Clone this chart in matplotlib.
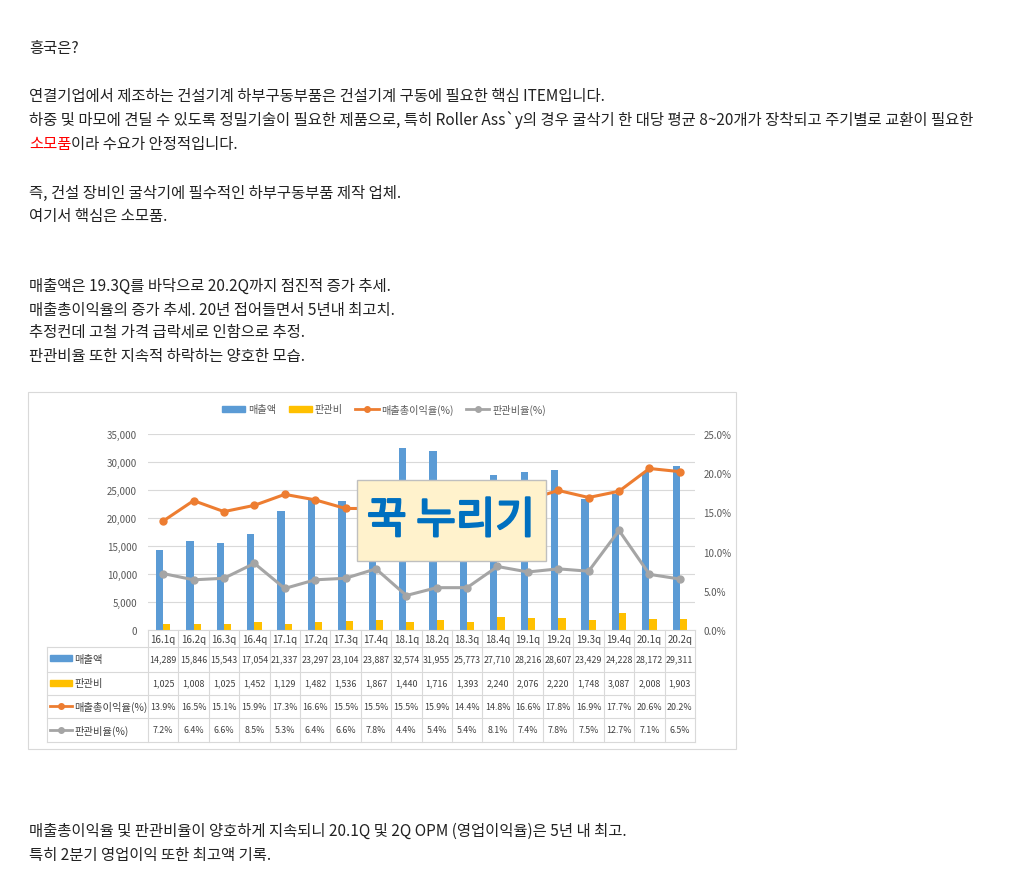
import matplotlib
matplotlib.use("Agg")
import matplotlib.pyplot as plt
import matplotlib.patheffects as pe
import numpy as np
from matplotlib import transforms
from matplotlib.lines import Line2D
from matplotlib.patches import Rectangle
from matplotlib.text import Annotation

plt.rcParams["font.family"] = ["Noto Sans CJK KR", "DejaVu Sans"]

quarters = ["16.1q", "16.2q", "16.3q", "16.4q", "17.1q", "17.2q", "17.3q", "17.4q", "18.1q",
            "18.2q", "18.3q", "18.4q", "19.1q", "19.2q", "19.3q", "19.4q", "20.1q", "20.2q"]
sales = [14289, 15846, 15543, 17054, 21337, 23297, 23104, 23887, 32574,
         31955, 25773, 27710, 28216, 28607, 23429, 24228, 28172, 29311]
sga = [1025, 1008, 1025, 1452, 1129, 1482, 1536, 1867, 1440,
       1716, 1393, 2240, 2076, 2220, 1748, 3087, 2008, 1903]
gross_margin = [13.9, 16.5, 15.1, 15.9, 17.3, 16.6, 15.5, 15.5, 15.5,
                15.9, 14.4, 14.8, 16.6, 17.8, 16.9, 17.7, 20.6, 20.2]
sga_ratio = [7.2, 6.4, 6.6, 8.5, 5.3, 6.4, 6.6, 7.8, 4.4,
             5.4, 5.4, 8.1, 7.4, 7.8, 7.5, 12.7, 7.1, 6.5]

series_names = ["매출액", "판관비", "매출총이익율(%)", "판관비율(%)"]
c_blue, c_yellow, c_orange, c_gray = "#5B9BD5", "#FFC000", "#ED7D31", "#A5A5A5"

body_lines = [
    (48, "흥국은?"),
    (97, "연결기업에서 제조하는 건설기계 하부구동부품은 건설기계 구동에 필요한 핵심 ITEM입니다."),
    (120, "하중 및 마모에 견딜 수 있도록 정밀기술이 필요한 제품으로, 특히 Roller Ass`y의 경우 굴삭기 한 대당 평균 8~20개가 장착되고 주기별로 교환이 필요한"),
    (193, "즉, 건설 장비인 굴삭기에 필수적인 하부구동부품 제작 업체."),
    (217, "여기서 핵심은 소모품."),
    (286, "매출액은 19.3Q를 바닥으로 20.2Q까지 점진적 증가 추세."),
    (310, "매출총이익율의 증가 추세. 20년 접어들면서 5년내 최고치."),
    (333, "추정컨데 고철 가격 급락세로 인함으로 추정."),
    (357, "판관비율 또한 지속적 하락하는 양호한 모습."),
    (831, "매출총이익율 및 판관비율이 양호하게 지속되니 20.1Q 및 2Q OPM (영업이익율)은 5년 내 최고."),
    (856, "특히 2분기 영업이익 또한 최고액 기록."),
]

W, H = 1020, 879
fig = plt.figure(figsize=(W / 100, H / 100), dpi=100)
fig.patch.set_facecolor("white")


def fx(px):
    return px / W


def fy(py):
    return 1 - py / H


text_color = "#222222"
body_fs = 11.1
for ypix, line in body_lines:
    fig.text(fx(29), fy(ypix), line, fontsize=body_fs, color=text_color, va="center", ha="left")

red = fig.text(fx(29), fy(144), "소모품", fontsize=body_fs, color="#FF0000", va="center", ha="left")
fig.add_artist(Annotation("이라 수요가 안정적입니다.", xy=(1, 0.5), xycoords=red, va="center", ha="left",
                          fontsize=body_fs, color=text_color))

# chart frame
fig.add_artist(Rectangle((fx(28), fy(750)), fx(736) - fx(28), fy(393) - fy(750),
                         transform=fig.transFigure, fill=False, edgecolor="#D9D9D9", lw=0.8))

ax = fig.add_axes([fx(148), fy(631), fx(695) - fx(148), fy(435) - fy(631)])
x = np.arange(len(quarters))
bw = 0.24
ax.bar(x - bw / 2, sales, bw, color=c_blue, zorder=2)
ax.bar(x + bw / 2, sga, bw, color=c_yellow, zorder=2)
ax.set_xlim(-0.5, len(quarters) - 0.5)
ax.set_ylim(0, 35000)
ax.set_yticks(np.arange(0, 35001, 5000))
ax.set_yticklabels([f"{v:,}" for v in range(0, 35001, 5000)])
ax.yaxis.grid(True, color="#D9D9D9", lw=0.8)
ax.set_axisbelow(True)
ax.set_xticks([])
ax.tick_params(axis="y", length=0, labelsize=7, labelcolor="#595959", pad=8)
for s in ax.spines.values():
    s.set_visible(False)

ax2 = ax.twinx()
ax2.plot(x, gross_margin, color=c_orange, lw=2.2, marker="o", ms=5)
ax2.plot(x, sga_ratio, color=c_gray, lw=2.2, marker="o", ms=5)
ax2.set_ylim(0, 25)
ax2.set_yticks(np.arange(0, 25.1, 5))
ax2.set_yticklabels([f"{v:.1f}%" for v in np.arange(0, 25.1, 5)])
ax2.tick_params(axis="y", length=0, labelsize=7, labelcolor="#595959", pad=6)
for s in ax2.spines.values():
    s.set_visible(False)

# legend
handles = [
    Rectangle((0, 0), 1, 1, color=c_blue),
    Rectangle((0, 0), 1, 1, color=c_yellow),
    Line2D([], [], color=c_orange, lw=2, marker="o", ms=4),
    Line2D([], [], color=c_gray, lw=2, marker="o", ms=4),
]
fig.legend(handles, series_names, loc="center", bbox_to_anchor=(fx(384), fy(410)), ncol=4,
           frameon=False, fontsize=7.3, handlelength=2.3, handleheight=0.5,
           columnspacing=1.2, handletextpad=0.3, labelcolor="#595959")

# data table under the plot
blend = transforms.blended_transform_factory(ax.transData, fig.transFigure)
grid_c = "#D9D9D9"
row_edges = [648, 673, 696, 719, 743]
row_centers = [660, 684, 707, 731]
for xe in np.arange(-0.5, len(quarters), 1.0):
    fig.add_artist(Line2D([xe, xe], [fy(631), fy(743)], transform=blend, color=grid_c, lw=0.8))
fig.add_artist(Line2D([fx(47), fx(47)], [fy(648), fy(743)], transform=fig.transFigure, color=grid_c, lw=0.8))
fig.add_artist(Line2D([fx(148), fx(695)], [fy(631), fy(631)], transform=fig.transFigure, color=grid_c, lw=0.8))
for ye in row_edges:
    fig.add_artist(Line2D([fx(47), fx(695)], [fy(ye), fy(ye)], transform=fig.transFigure, color=grid_c, lw=0.8))

cell_kw = dict(fontsize=6.4, color="#404040", ha="center", va="center", transform=blend)
rows = [
    [f"{v:,}" for v in sales],
    [f"{v:,}" for v in sga],
    [f"{v:.1f}%" for v in gross_margin],
    [f"{v:.1f}%" for v in sga_ratio],
]
for i, q in enumerate(quarters):
    ax.text(i, fy(640), q, **{**cell_kw, "fontsize": 7})
    for r, yc in zip(rows, row_centers):
        ax.text(i, fy(yc), r[i], **cell_kw)

# row keys
fig.add_artist(Rectangle((fx(50), fy(662)), fx(22), fy(656) - fy(662), color=c_blue, transform=fig.transFigure))
fig.add_artist(Rectangle((fx(50), fy(687)), fx(22), fy(681) - fy(687), color=c_yellow, transform=fig.transFigure))
for yc, col in [(707, c_orange), (731, c_gray)]:
    fig.add_artist(Line2D([fx(50), fx(72)], [fy(yc)] * 2, color=col, lw=2, transform=fig.transFigure))
    fig.add_artist(Line2D([fx(61)], [fy(yc)], color=col, marker="o", ms=4, transform=fig.transFigure))
for name, yc in zip(series_names, row_centers):
    fig.text(fx(74), fy(yc), name, fontsize=7.4, color="#404040", va="center", ha="left")

# overlay sticker
fig.add_artist(Rectangle((fx(357), fy(562)), fx(546) - fx(357), fy(481) - fy(562),
                         transform=fig.transFigure, facecolor="#FFF2CC", edgecolor="#BFBFBF", lw=1, zorder=5))
fig.text(fx(451), fy(522), "꾹 누리기", fontsize=31, color="#0070C0",
         ha="center", va="center", zorder=6,
         path_effects=[pe.withStroke(linewidth=1.6, foreground="#0070C0")])

fig.savefig("out.png", dpi=100)
